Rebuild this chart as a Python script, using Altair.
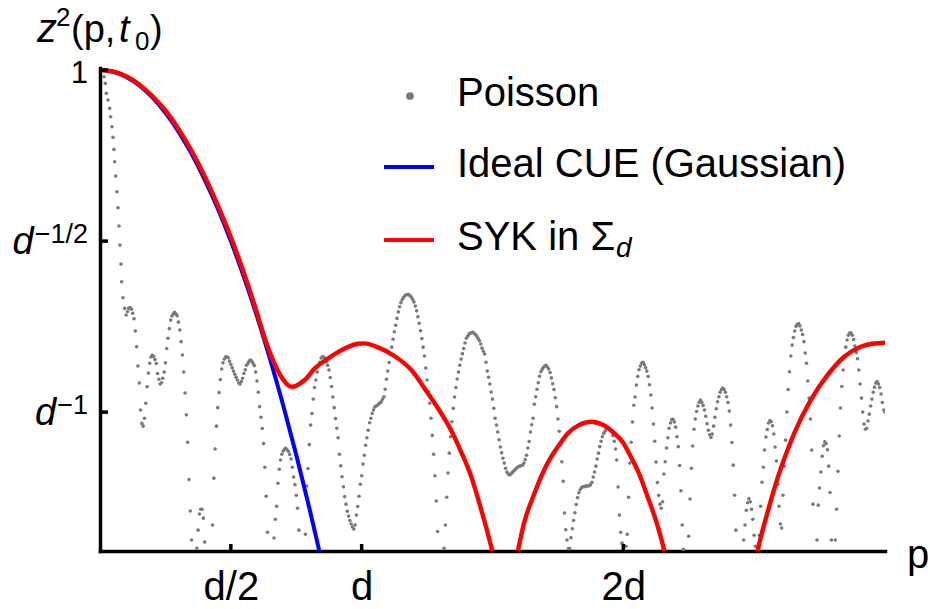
import altair as alt
import pandas as pd

FONT = "Liberation Sans"

# ---------------- data (log_d of z^2, p in units of d) ----------------
# initial steep drop of the Poisson curve, read dot by dot
poisson_head_p = [0.0, 0.0115, 0.0153, 0.0202, 0.024, 0.0305, 0.037, 0.0408,
                  0.0458, 0.0496, 0.0534, 0.0561, 0.0599, 0.0649, 0.0687,
                  0.0725, 0.0763, 0.0802, 0.0828, 0.0878, 0.0943]
poisson_head_logd = [0.0, -0.0015, -0.0196, -0.0389, -0.0681, -0.0877, -0.112,
                     -0.1365, -0.1658, -0.1968, -0.2319, -0.2681, -0.31,
                     -0.3558, -0.4026, -0.4561, -0.5117, -0.5673, -0.619,
                     -0.6658, -0.6968]
# Poisson curve read every 0.01 d from p = 0.10 d
poisson_p = [round(0.01 * k, 2) for k in range(10, 301)]
poisson_logd = [
    -0.716, -0.696, -0.699, -0.727, -0.809, -0.915, -1.033, -1.018, -0.926, -0.857,
    -0.834, -0.846, -0.887, -0.918, -0.901, -0.856, -0.784, -0.731, -0.713, -0.713,
    -0.737, -0.794, -0.883, -1.008, -1.197, -1.374, -1.6, -1.398, -1.298, -1.284,
    -1.380, -1.6, -1.6, -1.330, -1.108, -0.987, -0.905, -0.856, -0.839, -0.841,
    -0.860, -0.880, -0.898, -0.915, -0.911, -0.887, -0.863, -0.851, -0.851, -0.864,
    -0.909, -0.984, -1.048, -1.161, -1.351, -1.6, -1.45, -1.313, -1.208, -1.140,
    -1.114, -1.106, -1.115, -1.137, -1.190, -1.243, -1.345, -1.6, -1.6, -1.216,
    -1.095, -1.004, -0.928, -0.883, -0.854, -0.838, -0.845, -0.863, -0.899, -0.956,
    -1.019, -1.075, -1.157, -1.218, -1.269, -1.304, -1.327, -1.342, -1.301, -1.246,
    -1.186, -1.126, -1.075, -1.031, -1.004, -0.985, -0.980, -0.973, -0.962, -0.933,
    -0.880, -0.832, -0.787, -0.746, -0.707, -0.680, -0.665, -0.657, -0.656, -0.664,
    -0.678, -0.704, -0.740, -0.785, -0.836, -0.906, -0.974, -1.068, -1.186, -1.349,
    -1.6, -1.6, -1.330, -1.178, -1.072, -0.989, -0.928, -0.883, -0.845, -0.814,
    -0.784, -0.772, -0.768, -0.770, -0.778, -0.791, -0.813, -0.830, -0.880, -0.918,
    -0.962, -1.018, -1.058, -1.102, -1.135, -1.164, -1.181, -1.181, -1.173, -1.165,
    -1.159, -1.156, -1.149, -1.126, -1.086, -1.037, -0.977, -0.933, -0.895, -0.875,
    -0.865, -0.868, -0.884, -0.917, -0.958, -1.020, -1.094, -1.202, -1.344, -1.399,
    -1.367, -1.317, -1.270, -1.236, -1.221, -1.218, -1.216, -1.215, -1.205, -1.175,
    -1.137, -1.101, -1.072, -1.056, -1.047, -1.051, -1.069, -1.108, -1.219, -1.351,
    -1.45, -1.392, -1.249, -1.088, -0.980, -0.921, -0.876, -0.857, -0.861, -0.880,
    -0.920, -0.988, -1.085, -1.206, -1.269, -1.262, -1.145, -1.075, -1.032, -1.021,
    -1.044, -1.101, -1.230, -1.401, -1.6, -1.363, -1.164, -1.050, -0.998, -0.971,
    -0.972, -0.994, -1.034, -1.066, -1.064, -1.015, -0.970, -0.942, -0.930, -0.942,
    -0.972, -1.038, -1.155, -1.345, -1.6, -1.6, -1.374, -1.287, -1.253, -1.284,
    -1.360, -1.45, -1.360, -1.205, -1.111, -1.051, -1.025, -1.040, -1.102, -1.211,
    -1.327, -1.243, -1.082, -0.934, -0.836, -0.782, -0.749, -0.741, -0.760, -0.794,
    -0.857, -0.959, -1.111, -1.45, -1.374, -1.222, -1.129, -1.087, -1.110, -1.235,
    -1.6, -1.374, -1.173, -0.988, -0.877, -0.810, -0.775, -0.768, -0.788, -0.826,
    -0.877, -0.959, -1.035, -1.047, -1.006, -0.962, -0.927, -0.911, -0.928, -0.972,
    -1.0,
]
# Poisson curve read at the half steps, p = 0.105 d ... 2.995 d
poisson_half_p = [round(0.105 + 0.01 * j, 3) for j in range(290)]
poisson_half_logd = [
    -0.706, -0.694, -0.711, -0.763, -0.865, -0.994, -1.041, -0.974, -0.886, -0.839,
    -0.837, -0.858, -0.904, -0.914, -0.883, -0.814, -0.756, -0.719, -0.708, -0.718,
    -0.760, -0.833, -0.944, -1.088, -1.289, -1.6, -1.6, -1.345, -1.284, -1.310,
    -1.6, -1.6, -1.45, -1.193, -1.041, -0.943, -0.874, -0.845, -0.838, -0.851,
    -0.870, -0.889, -0.906, -0.918, -0.901, -0.876, -0.858, -0.848, -0.858, -0.883,
    -0.942, -1.015, -1.092, -1.246, -1.45, -1.6, -1.368, -1.275, -1.167, -1.123,
    -1.108, -1.110, -1.124, -1.161, -1.212, -1.281, -1.45, -1.6, -1.357, -1.165,
    -1.038, -0.962, -0.906, -0.864, -0.842, -0.839, -0.853, -0.877, -0.925, -0.987,
    -1.047, -1.123, -1.189, -1.247, -1.290, -1.317, -1.336, -1.330, -1.276, -1.211,
    -1.152, -1.097, -1.053, -1.018, -0.994, -0.982, -0.976, -0.970, -0.955, -0.904,
    -0.855, -0.810, -0.765, -0.726, -0.692, -0.671, -0.660, -0.656, -0.660, -0.671,
    -0.690, -0.721, -0.762, -0.810, -0.871, -0.940, -1.018, -1.123, -1.260, -1.6,
    -1.6, -1.398, -1.249, -1.120, -1.028, -0.956, -0.903, -0.863, -0.829, -0.798,
    -0.778, -0.769, -0.767, -0.773, -0.785, -0.801, -0.822, -0.854, -0.898, -0.941,
    -0.989, -1.038, -1.081, -1.119, -1.149, -1.175, -1.184, -1.177, -1.169, -1.162,
    -1.158, -1.155, -1.139, -1.105, -1.058, -1.018, -0.955, -0.914, -0.882, -0.869,
    -0.863, -0.874, -0.900, -0.934, -0.984, -1.056, -1.145, -1.295, -1.374, -1.399,
    -1.341, -1.294, -1.250, -1.227, -1.218, -1.216, -1.216, -1.212, -1.190, -1.158,
    -1.120, -1.085, -1.062, -1.050, -1.047, -1.057, -1.085, -1.140, -1.301, -1.383,
    -1.45, -1.357, -1.149, -1.029, -0.956, -0.896, -0.865, -0.854, -0.870, -0.896,
    -0.950, -1.035, -1.146, -1.243, -1.281, -1.181, -1.105, -1.047, -1.022, -1.029,
    -1.072, -1.156, -1.330, -1.6, -1.45, -1.254, -1.099, -1.020, -0.982, -0.965,
    -0.981, -1.012, -1.053, -1.074, -1.041, -0.990, -0.955, -0.934, -0.934, -0.955,
    -0.997, -1.089, -1.243, -1.6, -1.6, -1.45, -1.330, -1.265, -1.262, -1.313,
    -1.392, -1.6, -1.275, -1.161, -1.073, -1.032, -1.028, -1.064, -1.143, -1.275,
    -1.339, -1.158, -1.000, -0.882, -0.804, -0.763, -0.743, -0.748, -0.773, -0.827,
    -0.909, -1.020, -1.269, -1.6, -1.272, -1.175, -1.098, -1.092, -1.158, -1.374,
    -1.6, -1.284, -1.070, -0.925, -0.839, -0.789, -0.769, -0.775, -0.807, -0.844,
    -0.918, -1.000, -1.050, -1.026, -0.982, -0.942, -0.915, -0.918, -0.947, -0.994,
]

gauss_p = [0.0, 0.05, 0.1, 0.15, 0.2, 0.25, 0.3, 0.35, 0.4, 0.45, 0.5, 0.55,
           0.6, 0.65, 0.7, 0.75, 0.8, 0.85]
gauss_logd = [0.0, -0.005, -0.02, -0.045, -0.08, -0.125, -0.18, -0.245, -0.32,
              -0.405, -0.5, -0.605, -0.72, -0.845, -0.98, -1.125, -1.28, -1.445]

syk_p = [0.0, 0.05, 0.1, 0.15, 0.2, 0.25, 0.3, 0.35, 0.4, 0.45, 0.5, 0.553, 0.6,
         0.63, 0.668, 0.70, 0.732, 0.782, 0.821, 0.872, 0.935, 0.986, 1.011, 1.06,
         1.119, 1.19, 1.253, 1.30, 1.342, 1.38, 1.419, 1.45, 1.482, 1.50, 1.52,
         1.58, 1.597, 1.62, 1.66, 1.70, 1.724, 1.76, 1.788, 1.83, 1.876, 1.92,
         1.966, 2.00, 2.029, 2.06, 2.093, 2.13, 2.156, 2.18, 2.49, 2.513, 2.55,
         2.589, 2.62, 2.653, 2.716, 2.78, 2.844, 2.907, 2.95, 3.0]
syk_logd = [0.0, -0.004, -0.018, -0.042, -0.076, -0.118, -0.172, -0.236, -0.31,
            -0.395, -0.488, -0.60, -0.71, -0.785, -0.86, -0.905, -0.926, -0.906,
            -0.872, -0.843, -0.814, -0.800, -0.799, -0.81, -0.833, -0.877, -0.945,
            -0.999, -1.053, -1.116, -1.189, -1.267, -1.355, -1.41, -1.5, -1.47,
            -1.406, -1.326, -1.238, -1.165, -1.131, -1.09, -1.062, -1.038, -1.028,
            -1.036, -1.062, -1.09, -1.131, -1.18, -1.248, -1.33, -1.404, -1.5,
            -1.5, -1.406, -1.296, -1.194, -1.126, -1.062, -0.965, -0.892, -0.838,
            -0.809, -0.800, -0.797]

x_tick_values = [0.5, 1.0, 2.0]
x_tick_labels = ["d/2", "d", "2d"]
y_tick_values = [0.0, -0.5, -1.0]
y_tick_base = ["1", "d", "d"]
y_tick_sup = ["", "\u22121/2", "\u22121"]
legend_labels = ["Poisson", "Ideal CUE (Gaussian)", "SYK in \u03a3"]
series_colors = ["#7a7a7a", "#0000ff", "#ff0000"]

# ---------------- layout ----------------
W, H = 785, 483
FS = 40
xs = alt.Scale(domain=[0, 3], nice=False, zero=False)
ys = alt.Scale(domain=[-1.406, 0.006], nice=False, zero=False)

label_expr = " : ".join(
    f"datum.value == {v} ? '{t}'" for v, t in zip(x_tick_values, x_tick_labels)
) + " : ''"

xaxis = alt.Axis(values=x_tick_values, labelExpr=label_expr, title=None,
                 grid=False, ticks=False, domainColor="black", domainWidth=3.5,
                 domainCap="square", labelFont=FONT, labelFontSize=FS,
                 labelColor="black", labelPadding=16, labelOverlap=False)
yaxis = alt.Axis(labels=False, ticks=False, title=None, grid=False,
                 domainColor="black", domainWidth=3.5, domainCap="square")


def X():
    return alt.X("p:Q", scale=xs, axis=xaxis)


def Y():
    return alt.Y("e:Q", scale=ys, axis=yaxis)


poisson_df = pd.DataFrame({
    "p": poisson_head_p + poisson_p + poisson_half_p,
    "e": poisson_head_logd + poisson_logd + poisson_half_logd,
})
poisson = alt.Chart(poisson_df).mark_circle(
    size=13, color=series_colors[0], opacity=1, clip=True
).encode(x=X(), y=Y())

gauss = alt.Chart(pd.DataFrame({"p": gauss_p, "e": gauss_logd})).mark_line(
    color=series_colors[1], strokeWidth=4, interpolate="monotone", clip=True
).encode(x=X(), y=Y())

syk = alt.Chart(pd.DataFrame({"p": syk_p, "e": syk_logd})).mark_line(
    color=series_colors[2], strokeWidth=4.4, interpolate="monotone", clip=True
).encode(x=X(), y=Y())

xticks = alt.Chart(pd.DataFrame({"p": x_tick_values})).mark_rule(
    color="black", strokeWidth=3.5
).encode(x=X(), y=alt.value(H - 7), y2=alt.value(H))

yticks = alt.Chart(pd.DataFrame({"e": y_tick_values})).mark_rule(
    color="black", strokeWidth=3.5
).encode(y=Y(), x=alt.value(0), x2=alt.value(8))

layers = [poisson, gauss, syk, xticks, yticks]

# y tick labels (base + superscript)
SUP_FS = 27
sup_em = {"\u2212": 0.584, "1": 0.556, "/": 0.278, "2": 0.556}
right_edge = -12
for v, b, s in zip(y_tick_values, y_tick_base, y_tick_sup):
    sw = sum(sup_em[c] for c in s) * SUP_FS
    df = pd.DataFrame({"e": [v], "b": [b], "s": [s]})
    base_fs = 38 if b == "d" else 31
    layers.append(alt.Chart(df).mark_text(
        align="right", baseline="alphabetic", dy=13, font=FONT,
        fontSize=base_fs, fontStyle="italic" if b == "d" else "normal",
        color="black"
    ).encode(y=Y(), x=alt.value(right_edge - sw - (1 if s else 0)), text="b:N"))
    if s:
        layers.append(alt.Chart(df).mark_text(
            align="right", baseline="alphabetic", dy=2, font=FONT,
            fontSize=SUP_FS, color="black"
        ).encode(y=Y(), x=alt.value(right_edge), text="s:N"))


def txt(s, x, y, fs=FS, style="normal", align="left"):
    return alt.Chart(pd.DataFrame({"t": [s]})).mark_text(
        align=align, baseline="alphabetic", font=FONT, fontSize=fs,
        fontStyle=style, color="black"
    ).encode(x=alt.value(x), y=alt.value(y), text="t:N")


# y-axis title z^2(p, t_0)
layers += [
    txt("z", -63, -26, 40, "italic"),
    txt("2", -44, -42, 26),
    txt("(p,", -29, -26, 38),
    txt("t", 19, -26, 38, "italic"),
    txt("0", 35, -18, 26),
    txt(")", 50, -26, 38),
]
# x-axis title
layers.append(txt("p", 807, 500, 40))

# legend
leg_dot = alt.Chart(pd.DataFrame({"t": [legend_labels[0]]})).mark_point(
    filled=True, size=60, color=series_colors[0], opacity=1
).encode(x=alt.value(310), y=alt.value(28))
leg_blue = alt.Chart(pd.DataFrame({"t": [legend_labels[1]]})).mark_rule(
    color=series_colors[1], strokeWidth=4
).encode(x=alt.value(284), x2=alt.value(334), y=alt.value(99))
leg_red = alt.Chart(pd.DataFrame({"t": [legend_labels[2]]})).mark_rule(
    color=series_colors[2], strokeWidth=4
).encode(x=alt.value(284), x2=alt.value(334), y=alt.value(172))
layers += [leg_dot, leg_blue, leg_red,
           txt(legend_labels[0], 357, 38),
           txt(legend_labels[1], 357, 109),
           txt(legend_labels[2], 357, 182),
           txt("d", 516, 189, 28, "italic")]

chart = alt.layer(*layers).properties(
    width=W, height=H,
    padding={"left": 100, "top": 68, "right": 45, "bottom": 58},
    autosize=alt.AutoSizeParams(type="none"),
    background="white",
).configure_view(stroke=None)

chart.save("out.html", embed_options={"renderer": "svg", "actions": False})
